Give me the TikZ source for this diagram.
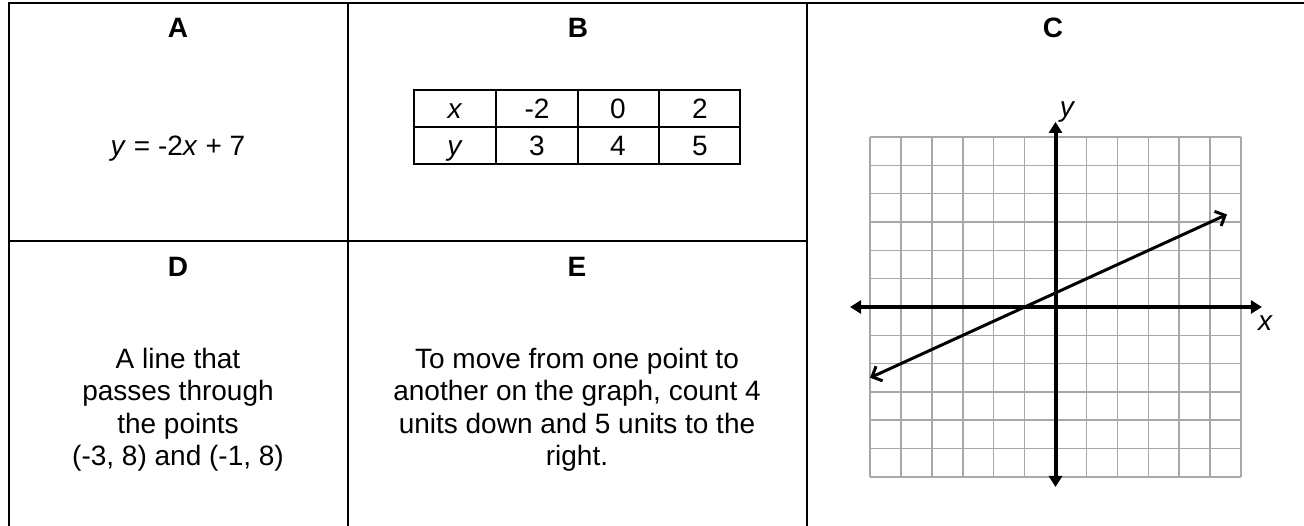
\documentclass[tikz,border=0pt]{standalone}
\usepackage{fontspec}
\setmainfont{Liberation Sans}
\usepackage{tikz}
\usetikzlibrary{arrows.meta}
\definecolor{gridgray}{RGB}{168,168,168}
\newcommand{\cellfont}{\fontsize{28}{32.5}\selectfont}
\tikzset{
  cellline/.style={line width=2pt, black},
  head/.style={font=\cellfont\bfseries, inner sep=0pt},
  celltext/.style={font=\cellfont, align=center, inner sep=0pt},
  tabtext/.style={font=\cellfont, anchor=base, inner sep=0pt},
  gridline/.style={gridgray, line width=1.4pt},
  axis/.style={line width=4pt,
               {Triangle[length=11pt,width=13pt]}-{Triangle[length=11pt,width=13pt]}},
  graphline/.style={line width=3pt,
                    {Straight Barb[length=8pt,width=16pt]}-{Straight Barb[length=8pt,width=16pt]}},
  axlabel/.style={font=\cellfont\itshape, inner sep=0pt},
}
\begin{document}
\begin{tikzpicture}[x=1pt,y=-1pt]
  \useasboundingbox (0,0) rectangle (1304,526);
  % cell borders
  \draw[cellline] (8.7,526) -- (8.7,3.3) -- (1304,3.3);
  \draw[cellline] (347.7,3.3) -- (347.7,526);
  \draw[cellline] (806.7,3.3) -- (806.7,526);
  \draw[cellline] (8.7,241) -- (806.7,241);

  % headers
  \node[head] (headA) at (178,28) {A};
  \node[head] (headB) at (578,28) {B};
  \node[head] (headC) at (1053,28) {C};
  \node[head] (headD) at (178,267) {D};
  \node[head] (headE) at (577,267) {E};

  % A
  \node[tabtext] (eqA) at (178,156) {\textit{y} = -2\textit{x} + 7};

  % B table
  \draw[cellline] (414,90) rectangle (740,164);
  \draw[cellline] (414,127) -- (740,127);
  \foreach \x in {496,578,659} \draw[cellline] (\x,90) -- (\x,164);
  \foreach \cx/\v [count=\i] in {455/\textit{x},537/-2,618/0,700/2}
    \node[tabtext] (tx\i) at (\cx,118.5) {\v};
  \foreach \cx/\v [count=\i] in {455/\textit{y},537/3,618/4,700/5}
    \node[tabtext] (ty\i) at (\cx,155.5) {\v};

  % D and E
  \node[celltext] (textD) at (178,410) {A line that\\passes through\\the points\\(-3, 8) and (-1, 8)};
  \node[celltext] (textE) at (577,410) {To move from one point to\\another on the graph, count 4\\units down and 5 units to the\\right.};

  % C graph
  \begin{scope}[shift={(1055.5,307)}, x=30.9pt, y=28.3pt]
    \foreach \i in {-6,...,6} {
      \draw[gridline] (\i,-6) -- (\i,6);
      \draw[gridline] (-6,\i) -- (6,\i);
    }
    \coordinate (xl) at (-6.65,0);
    \coordinate (xr) at (6.68,0);
    \coordinate (yb) at (0,-6.36);
    \coordinate (yt) at (0,6.54);
    \draw[axis] (xl) -- (xr);
    \draw[axis] (yb) -- (yt);
    \coordinate (p1) at (-6,-2.5);
    \coordinate (p2) at (5.55,3.27);
    \draw[graphline] (p1) -- (p2);
    \node[axlabel] (ylab) at (0.37,6.89) {y};
    \node[axlabel] (xlab) at (6.78,-0.57) {x};
  \end{scope}
\end{tikzpicture}
\end{document}
